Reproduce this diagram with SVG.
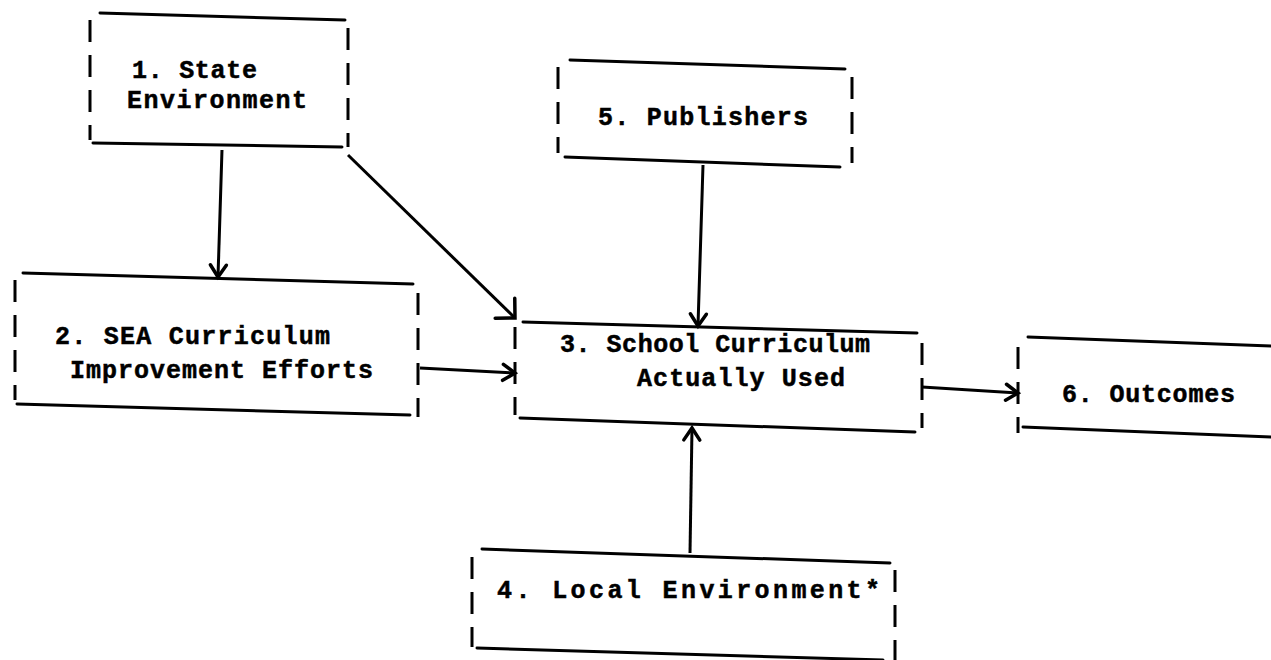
<svg xmlns="http://www.w3.org/2000/svg" width="1271" height="660" viewBox="0 0 1271 660">
<style>
.edge{stroke:#000;stroke-width:3;fill:none;stroke-linecap:round}
.side{stroke:#000;stroke-width:3;fill:none;stroke-dasharray:22 13;stroke-linecap:butt}
.conn{stroke:#000;stroke-width:3;fill:none}
text{font-family:"Liberation Mono","DejaVu Sans Mono",monospace;font-weight:bold;font-size:25px;fill:#000;stroke:#000;stroke-width:0.5}
</style>
<defs>
<marker id="ah" viewBox="-16 -12 20 24" refX="0" refY="0" markerWidth="20" markerHeight="24" markerUnits="userSpaceOnUse" orient="auto">
<path d="M-12,-8 L0,0 L-12,8" fill="none" stroke="#000" stroke-width="3.5" stroke-linecap="round"/>
</marker>
<marker id="ahd" viewBox="-18 -18 22 36" refX="0" refY="0" markerWidth="22" markerHeight="36" markerUnits="userSpaceOnUse" orient="auto">
<path d="M-14,-14 L0,0 L-14,14" fill="none" stroke="#000" stroke-width="3.5" stroke-linecap="round"/>
</marker>
</defs>
<rect width="1271" height="660" fill="#fff"/>
<g id="connectors">
<line class="conn" x1="222" y1="150" x2="218" y2="277" marker-end="url(#ah)"/>
<line class="conn" x1="348" y1="155" x2="515" y2="318" marker-end="url(#ahd)"/>
<line class="conn" x1="420" y1="368" x2="515" y2="373" marker-end="url(#ah)"/>
<line class="conn" x1="703" y1="165" x2="698" y2="326" marker-end="url(#ah)"/>
<line class="conn" x1="690" y1="553" x2="692" y2="428" marker-end="url(#ah)"/>
<line class="conn" x1="922" y1="387" x2="1018" y2="393" marker-end="url(#ah)"/>
</g>
<g id="node1">
<line class="edge" x1="100" y1="13" x2="345" y2="20"/>
<line class="edge" x1="93" y1="143" x2="342" y2="147"/>
<line class="side" x1="90" y1="20" x2="90" y2="140"/>
<line class="side" x1="348" y1="28" x2="348" y2="147"/>
<text x="132" y="78" textLength="125" lengthAdjust="spacing">1. State</text>
<text x="127" y="108" textLength="180" lengthAdjust="spacing">Environment</text>
</g>
<g id="node2">
<line class="edge" x1="23" y1="273" x2="413" y2="284"/>
<line class="edge" x1="17" y1="404" x2="410" y2="415"/>
<line class="side" x1="15" y1="280" x2="15" y2="400"/>
<line class="side" x1="418" y1="293" x2="418" y2="417"/>
<text x="55" y="344" textLength="275" lengthAdjust="spacing">2. SEA Curriculum</text>
<text x="70" y="378" textLength="303" lengthAdjust="spacing">Improvement Efforts</text>
</g>
<g id="node3">
<line class="edge" x1="523" y1="322" x2="917" y2="333"/>
<line class="edge" x1="520" y1="418" x2="915" y2="432"/>
<line class="side" x1="515" y1="327" x2="515" y2="415"/>
<line class="side" x1="922" y1="343" x2="922" y2="428"/>
<text x="560" y="352" textLength="310" lengthAdjust="spacing">3. School Curriculum</text>
<text x="637" y="386" textLength="208" lengthAdjust="spacing">Actually Used</text>
</g>
<g id="node5">
<line class="edge" x1="570" y1="60" x2="845" y2="69"/>
<line class="edge" x1="565" y1="157" x2="840" y2="167"/>
<line class="side" x1="558" y1="67" x2="558" y2="153"/>
<line class="side" x1="852" y1="77" x2="852" y2="163"/>
<text x="598" y="125" textLength="210" lengthAdjust="spacing">5. Publishers</text>
</g>
<g id="node6">
<line class="edge" x1="1028" y1="337" x2="1271" y2="346"/>
<line class="edge" x1="1023" y1="427" x2="1271" y2="437"/>
<line class="side" x1="1018" y1="347" x2="1018" y2="433"/>
<text x="1062" y="402" textLength="173" lengthAdjust="spacing">6. Outcomes</text>
</g>
<g id="node4">
<line class="edge" x1="482" y1="549" x2="890" y2="563"/>
<line class="edge" x1="477" y1="648" x2="883" y2="660"/>
<line class="side" x1="472" y1="557" x2="472" y2="647"/>
<line class="side" x1="895" y1="570" x2="895" y2="660"/>
<text x="497" y="598" textLength="383" lengthAdjust="spacing">4. Local Environment*</text>
</g>
</svg>
